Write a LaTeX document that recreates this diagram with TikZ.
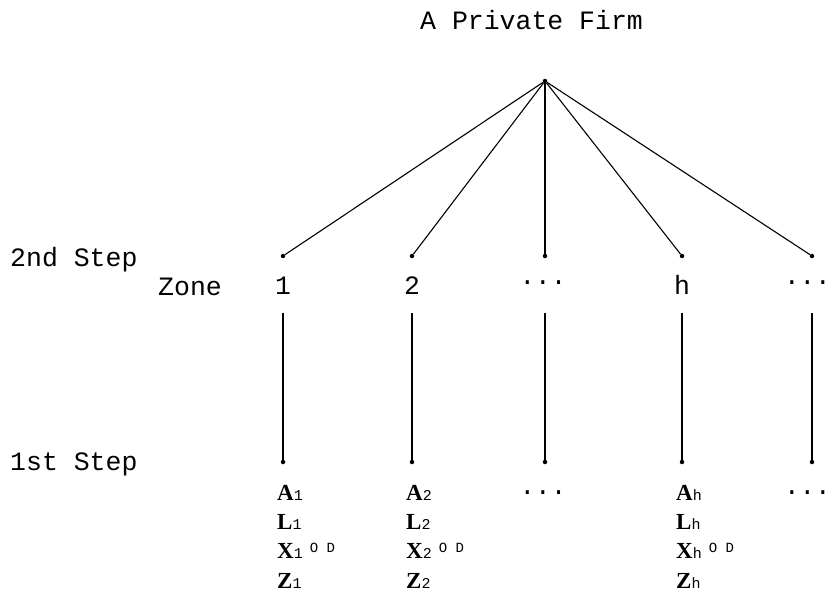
\documentclass[tikz,border=0pt]{standalone}
\usepackage{fontspec}
\setmainfont{Liberation Mono}
\newfontfamily\labserif{Liberation Serif}
\newcommand{\subtxt}[1]{{\rmfamily\mdseries\fontsize{15}{15}\selectfont #1}}
\newcommand{\suptxt}[1]{\raisebox{6pt}{\rmfamily\mdseries\fontsize{14}{14}\selectfont #1}}
\begin{document}
\begin{tikzpicture}[x=1pt,y=-1pt,
  dot/.style={circle,fill,inner sep=0pt,minimum size=4.5pt},
  lbl/.style={font=\fontsize{26.5}{30}\selectfont, inner sep=0pt, anchor=base west},
  ell/.style={font=\fontsize{26}{30}\selectfont, inner sep=0pt},
  var/.style={font=\labserif\bfseries\fontsize{23}{28}\selectfont, inner sep=0pt, anchor=base west},
  conn/.style={line width=1.1pt}]
\useasboundingbox (0,0) rectangle (832,601);
\node[lbl] (title) at (420,30) {A Private Firm};
\node[dot] (top) at (545,81) {};
\node[lbl] (step2) at (10,267) {2nd Step};
\node[lbl] (zone) at (158,296) {Zone};
\node[lbl] (step1) at (10,470) {1st Step};
\foreach \i/\x in {1/283,2/412,3/545,4/682,5/812} {
  \node[dot] (z\i) at (\x,256) {};
  \coordinate (v\i) at (\x,313);
  \node[dot] (b\i) at (\x,462) {};
  \draw[conn] (top) -- (z\i);
  \draw[conn] (v\i) -- (b\i);
}
\foreach \i/\x/\t in {1/283/1,2/412/2,4/682/h} {
  \node[lbl, anchor=base] (zl\i) at (\x,295) {\t};
}
\node[ell, anchor=base] (zl3) at (543,285) {...};
\node[ell, anchor=base east] (zl5) at (831,285) {...};
\foreach \i/\x/\t in {1/283/1,2/412/2,4/682/h} {
  \node[var] (a\i) at (\x-6,500) {A\subtxt{\t}};
  \node[var] (l\i) at (\x-6,529) {L\subtxt{\t}};
  \node[var] (x\i) at (\x-6,558) {X\subtxt{\t}\hspace{7pt}\suptxt{O D}};
  \node[var] (zz\i) at (\x-6,588) {Z\subtxt{\t}};
}
\node[ell, anchor=base] (bd3) at (543,494) {...};
\node[ell, anchor=base east] (bd5) at (831,494) {...};
\end{tikzpicture}
\end{document}
